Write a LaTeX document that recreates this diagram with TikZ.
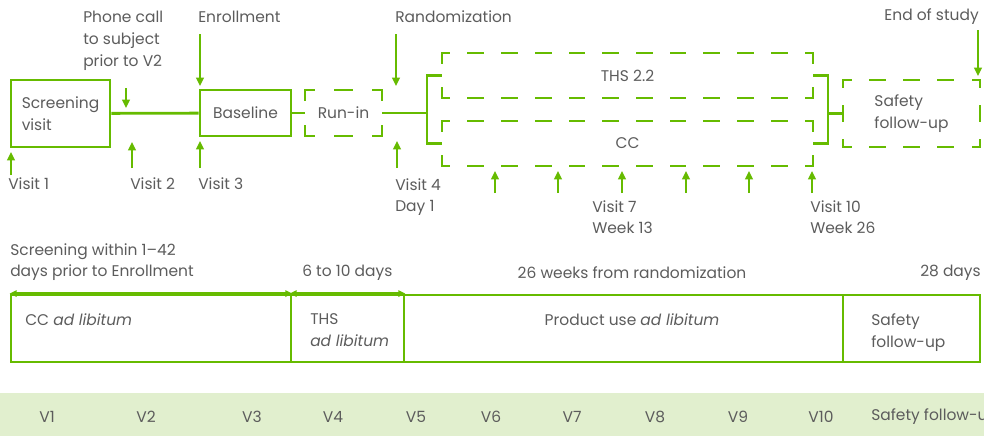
\documentclass[tikz,border=0pt]{standalone}
\usepackage{fontspec}
\setmainfont{Poppins}
\usepackage{tikz}
\usetikzlibrary{arrows.meta,positioning}

\definecolor{armgreen}{RGB}{102,187,0}
\definecolor{armgrey}{RGB}{92,92,92}
\definecolor{bandgreen}{RGB}{225,239,206}

% dashed border with a dash centred on every corner
\newcommand{\cornerdashed}[1]{%
    \foreach \a/\b in {north west/north east,north east/south east,south east/south west,south west/north west}{%
        \pgfpointdiff{\pgfpointanchor{#1}{\a}}{\pgfpointanchor{#1}{\b}}%
        \pgfgetlastxy{\dx}{\dy}%
        \pgfmathsetmacro{\sidelen}{veclen(\dx,\dy)}%
        \pgfmathsetmacro{\period}{\sidelen/max(1,round(\sidelen/23))}%
        \pgfmathsetmacro{\dashon}{0.48*\period-1.6}%
        \pgfmathsetmacro{\dashoff}{\period-\dashon}%
        \pgfmathsetmacro{\dashph}{0.5*\dashon}%
        \draw[draw=armgreen, line width=2pt, line cap=rect,
            dash pattern=on \dashon pt off \dashoff pt, dash phase=\dashph pt]
            (#1.\a) -- (#1.\b);
    }%
}

\begin{document}
\begin{tikzpicture}[
            x=0.025cm, y=-0.025cm,
            >={Triangle[length=6pt,width=5.5pt]},
            every node/.style={font=\fontsize{11}{15.6}\selectfont, text=armgrey, inner sep=0pt},
            period/.style={draw=armgreen, line width=2pt, align=left},
            armbox/.style={align=left, outer sep=0pt},
            link/.style={draw=armgreen, line width=2pt},
            visit/.style={draw=armgreen, line width=1.6pt, ->, armgreen},
            span/.style={draw=armgreen, line width=1.6pt, <->, armgreen,
                >={Triangle[length=5pt,width=4.5pt]}}
        ]

        \useasboundingbox (0,0) rectangle (984,435);

        %================================================
        % Top row: study flow
        %================================================
        \node[period, minimum width=2.475cm, minimum height=1.675cm] (screen) at (60.5,113.5) {Screening\\visit};
        \node[period, minimum width=2.275cm, minimum height=1.15cm] (base) at (245.5,113) {Baseline};
        \node[armbox, minimum width=1.925cm, minimum height=1.15cm] (runin) at (343.5,113) {Run-in};
        \node[armbox, minimum width=9.275cm, minimum height=1.125cm] (ths) at (627.5,75.5) {THS 2.2};
        \node[armbox, minimum width=9.275cm, minimum height=1.125cm] (cc) at (627.5,143.5) {CC};
        \node[armbox, minimum width=3.425cm, minimum height=1.675cm] (safe) at (911.5,113.5) {Safety\\follow-up};

        \cornerdashed{runin}
        \cornerdashed{ths}
        \cornerdashed{cc}
        \cornerdashed{safe}

        \coordinate (split) at (427,113);
        \coordinate (merge) at (828,113.5);

        \draw[link] (screen) -- (base);
        \draw[link] (base) -- (runin);
        \draw[link] (runin) -- (split);
        \draw[link] (ths.west) -| (split) |- (cc.west);
        \draw[link] (ths.east) -| (merge) |- (cc.east);
        \draw[link] (merge) -- (safe);

        %================================================
        % Labels above and below the flow
        %================================================
        \node[anchor=north west, align=left] (phone) at (83,11) {Phone call\\to subject\\prior to V2};
        \node[anchor=west] (enrol) at (198,17) {Enrollment};
        \node[anchor=west] (random) at (395,17) {Randomization};
        \node[anchor=east] (endstudy) at (979,17) {End of study};

        \node[anchor=west] (visit1) at (8,184) {Visit 1};
        \node[anchor=west] (visit2) at (130,184) {Visit 2};
        \node[anchor=west] (visit3) at (198,184) {Visit 3};
        \node[anchor=north west, align=left] (visit4) at (395,178) {Visit 4\\Day 1};
        \node[anchor=north west, align=left] (visit7) at (592,200) {Visit 7\\Week 13};
        \node[anchor=north west, align=left] (visit10) at (810,200) {Visit 10\\Week 26};

        % down arrows
        \coordinate (phonetail) at (126,88);
        \coordinate (enroltail) at (200,34);
        \coordinate (randtail) at (396,34);
        \coordinate (endtail) at (978,30);
        \draw[visit] (phonetail) -- ++(0,20);
        \draw[visit] (enroltail) -- ++(0,52);
        \draw[visit] (randtail) -- ++(0,52);
        \draw[visit] (endtail) -- ++(0,46);

        % up arrows
        \coordinate (v1tail) at (11,175);
        \coordinate (v2tail) at (132,168);
        \coordinate (v3tail) at (200,168);
        \coordinate (v4tail) at (397,168);
        \draw[visit] (v1tail) -- ++(0,-23);
        \draw[visit] (v2tail) -- ++(0,-26);
        \draw[visit] (v3tail) -- ++(0,-27);
        \draw[visit] (v4tail) -- ++(0,-27);
        \foreach \x [count=\i] in {495,558,622,686,749,812} {
            \coordinate (w\i) at (\x,193);
            \draw[visit] (w\i) -- ++(0,-22);
        }

        %================================================
        % Middle row: periods
        %================================================
        \node[anchor=north west, align=left] (screenwin) at (10,243) {Screening within 1--42\\days prior to Enrollment};
        \node[anchor=west] (sixten) at (302,273) {6 to 10 days};
        \node (wk26) at (632,273) {26 weeks from randomization};
        \node[anchor=east] (days28) at (981,273) {28 days};

        \node[period, minimum width=7cm, minimum height=1.675cm] (ccper) at (151,328.5) {};
        \node[period, minimum width=2.825cm, minimum height=1.675cm] (thsper) at (347.5,328.5) {};
        \node[period, minimum width=10.975cm, minimum height=1.675cm] (prodper) at (623.5,328.5) {};
        \node[period, minimum width=3.425cm, minimum height=1.675cm] (safeper) at (911.5,328.5) {};

        \draw[span] (ccper.north west) -- (ccper.north east);
        \draw[span] (thsper.north west) -- (thsper.north east);

        \node[anchor=west] (cctext) at (25,320) {CC \textit{ad libitum}};
        \node[anchor=north west, align=left] (thstext) at (310,313) {THS\\\textit{ad libitum}};
        \node (prodtext) at (632,320) {Product use \textit{ad libitum}};
        \node[anchor=north west, align=left] (safetext) at (871,313) {Safety\\follow-up};

        %================================================
        % Bottom band: visit numbers
        %================================================
        \fill[bandgreen] (0,393) rectangle (984,440);
        \foreach \x [count=\i] in {47,146,252,333,416,491,572,655,738,821} {
            \node (band\i) at (\x,417) {V\i};
        }
        \node[anchor=west] (bandsafe) at (871,417) {Safety follow-up};

        \end{tikzpicture}
\end{document}
